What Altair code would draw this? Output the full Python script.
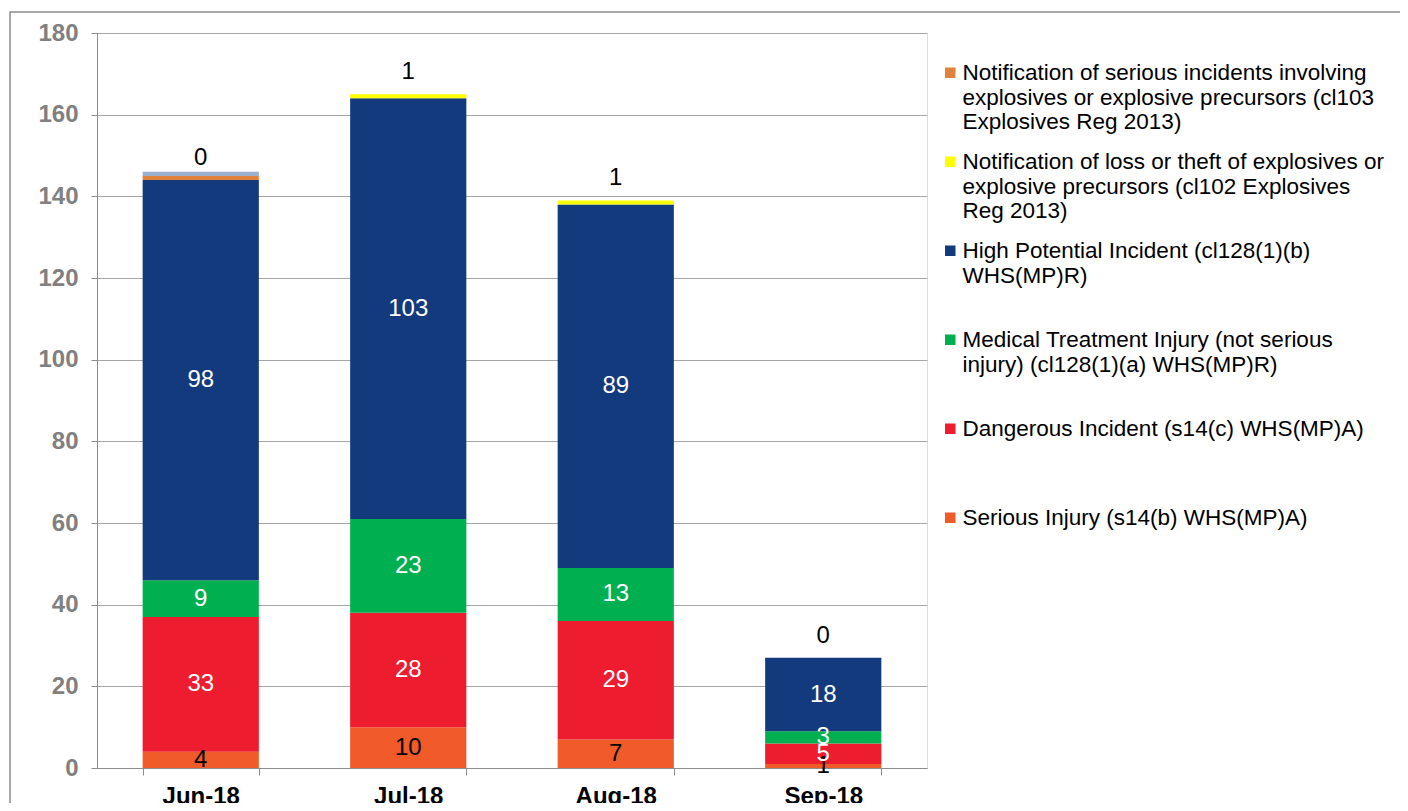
import altair as alt
import pandas as pd

months = ["Jun-18", "Jul-18", "Aug-18", "Sep-18"]

series_names = [
    "Serious Injury (s14(b) WHS(MP)A)| | ",
    "Dangerous Incident (s14(c) WHS(MP)A)| | ",
    "Medical Treatment Injury (not serious|injury) (cl128(1)(a) WHS(MP)R)| ",
    "High Potential Incident (cl128(1)(b)|WHS(MP)R)| ",
    "Notification of loss or theft of explosives or|explosive precursors (cl102 Explosives|Reg 2013)",
    "Notification of serious incidents involving|explosives or explosive precursors (cl103|Explosives Reg 2013)",
    "Other",
]
series_colors = ["#F15A29", "#ED1C2E", "#00B050", "#143A7E", "#FFFF00", "#E0823D", "#9DAFCF"]

serious_injury = [4, 10, 7, 1]
dangerous = [33, 28, 29, 5]
medical = [9, 23, 13, 3]
high_potential = [98, 103, 89, 18]
loss_theft = [0, 1, 1, 0]
notif_serious = [1, 0, 0, 0]
other = [1, 0, 0, 0]

values = [serious_injury, dangerous, medical, high_potential, loss_theft, notif_serious, other]

rows = []
for si, (name, vals) in enumerate(zip(series_names, values)):
    for m, v in zip(months, vals):
        rows.append({"month": m, "series": name, "value": v, "order": si})
df = pd.DataFrame(rows)

legend_values = list(reversed(series_names[:6]))

FONT = "Liberation Sans"

base = alt.Chart(df).transform_stack(
    stack="value", groupby=["month"], sort=[alt.SortField("order", order="ascending")], as_=["y0", "y1"]
).transform_calculate(mid="(datum.y0 + datum.y1) / 2")

xenc = alt.X(
    "month:N",
    sort=months,
    title=None,
    scale=alt.Scale(paddingInner=0.44, paddingOuter=0.22),
    axis=alt.Axis(
        labelFont=FONT, labelFontSize=24, labelFontWeight="bold", labelColor="#000000",
        domainColor="#8C8C8C", tickColor="#8C8C8C", tickBand="extent", tickSize=7,
        labelPadding=9, labelAngle=0, grid=False,
    ),
)

bars = base.mark_bar(stroke=None).encode(
    x=xenc,
    y=alt.Y(
        "y0:Q",
        title=None,
        scale=alt.Scale(domain=[0, 180], nice=False),
        axis=alt.Axis(
            values=list(range(0, 181, 20)), labelFont=FONT, labelFontSize=24, labelFontWeight="bold",
            labelColor="#808080", domainColor="#8C8C8C", tickColor="#8C8C8C", tickSize=6,
            labelPadding=13, gridColor="#A6A6A6", gridWidth=1,
        ),
    ),
    y2="y1:Q",
    color=alt.Color(
        "series:N",
        scale=alt.Scale(domain=series_names, range=series_colors),
        legend=alt.Legend(
            values=legend_values, title=None, orient="none", legendX=842, legendY=18,
            labelExpr="split(datum.label, '|')", labelFont=FONT, labelFontSize=22.5,
            labelColor="#000000", labelLimit=600, labelBaseline="top",
            symbolType="M-1,1H1V3H-1Z", symbolSize=110, symbolStrokeWidth=0, symbolOpacity=1,
            rowPadding=6, labelOffset=1,
        ),
    ),
    order=alt.Order("order:Q"),
)

inner_labels = base.transform_filter(
    alt.FieldOneOfPredicate(field="order", oneOf=[0, 1, 2, 3])
).mark_text(font=FONT, fontSize=24, baseline="middle").encode(
    x=alt.X("month:N", sort=months),
    y=alt.Y("mid:Q"),
    text=alt.Text("value:Q"),
    color=alt.condition(alt.datum.order == 0, alt.value("#000000"), alt.value("#FFFFFF")),
)

top_labels = base.transform_filter(alt.datum.order == 4).mark_text(
    font=FONT, fontSize=24, baseline="middle", dy=-22, color="#000000"
).encode(
    x=alt.X("month:N", sort=months),
    y=alt.Y("y1:Q"),
    text=alt.Text("value:Q"),
)

frame = alt.Chart(pd.DataFrame({"a": [0]})).mark_rect(
    fillOpacity=0, stroke="#8C8C8C", strokeWidth=1.5
).encode(
    x=alt.value(-87), x2=alt.value(1400), y=alt.value(-21), y2=alt.value(900)
)

chart = alt.layer(bars, inner_labels, top_labels, frame).properties(
    width=830, height=735,
    padding={"left": 89, "top": 25, "right": 473, "bottom": 35},
    autosize=alt.AutoSizeParams(type="none"),
).configure_view(stroke=None).configure(background="#FFFFFF")

chart.save("out.html", embed_options={"renderer": "svg", "actions": False})
